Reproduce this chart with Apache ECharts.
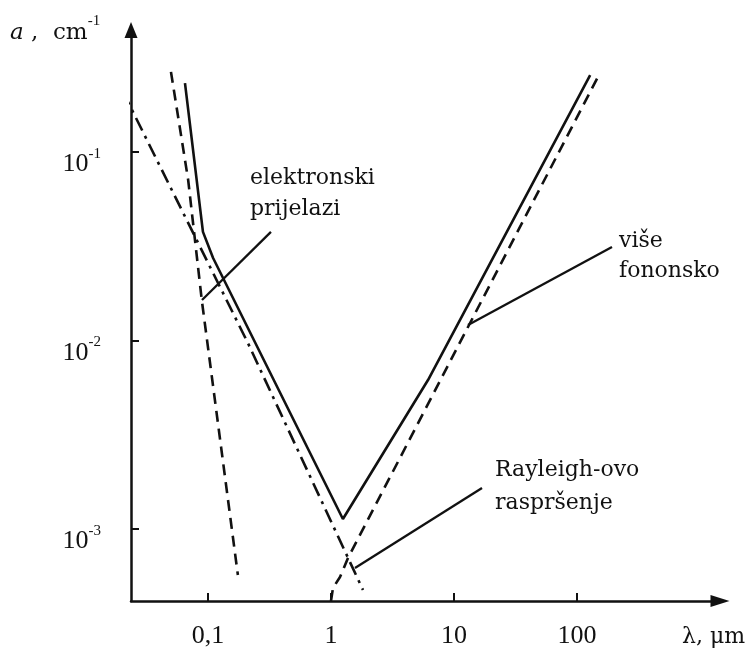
<!DOCTYPE html>
<html>
<head>
<meta charset="utf-8">
<script src="https://cdn.jsdelivr.net/npm/echarts@6/dist/echarts.min.js"></script>
<style>
    html, body { margin: 0; padding: 0; background: #fff; }
    #chart { width: 751px; height: 652px; }
</style>
</head>
<body>
<div id="chart"></div>
<script>
// valna duljina lambda (um) i koeficijent apsorpcije a (cm^-1), ocitano sa slike
var ukupnoX = [0.065, 0.091, 0.110, 1.25, 6.15, 128];
var ukupnoY = [0.232, 0.0377, 0.0274, 0.00113, 0.00617, 0.256];

var elektronskiX = [0.050, 0.069, 0.089, 0.175];
var elektronskiY = [0.266, 0.071, 0.0164, 0.00057];

var repX = [0.0204, 0.211, 1.82];
var repY = [0.208, 0.0097, 0.000475];

var rayleighX = [1.0, 1.038, 1.184, 1.375, 148];
var rayleighY = [0.000415, 0.000486, 0.000556, 0.000702, 0.250];

var xTicks = [0.1, 1, 10, 100];
var yTicks = [0.001, 0.01, 0.1];

// pokazne crte do natpisa
var crtaElektronskiX = [0.325, 0.0894];
var crtaElektronskiY = [0.0377, 0.0164];
var crtaFononiX = [192.6, 13.0];
var crtaFononiY = [0.0313, 0.01207];
var crtaRayleighX = [16.9, 1.567];
var crtaRayleighY = [0.00165, 0.000621];

function parovi(xs, ys) {
    return xs.map(function (x, i) { return [x, ys[i]]; });
}

var crna = '#111';

function linija(xs, ys, tip, sirina) {
    return {
        type: 'line',
        data: parovi(xs, ys),
        symbol: 'none',
        silent: true,
        clip: false,
        lineStyle: {color: crna, width: sirina, type: tip}
    };
}

var chart = echarts.init(document.getElementById('chart'));
var option = {
    animation: false,
    backgroundColor: '#fff',
    grid: {left: 131, right: 31, top: 30, bottom: 51},
    xAxis: {
        type: 'log',
        logBase: 10,
        min: 0.02366,
        max: 1455,
        axisLine: {
            lineStyle: {color: crna, width: 2.5},
            symbol: ['none', 'triangle'],
            symbolSize: [12, 19]
        },
        axisTick: {inside: true, length: 8, lineStyle: {color: crna, width: 2}, customValues: xTicks},
        axisLabel: {
            customValues: xTicks,
            margin: 22,
            color: crna,
            fontFamily: 'Liberation Serif',
            fontSize: 26,
            formatter: function (v) { return String(v).replace('.', ','); }
        },
        splitLine: {show: false},
        minorTick: {show: false}
    },
    yAxis: {
        type: 'log',
        logBase: 10,
        min: 0.000415,
        max: 0.4437,
        axisLine: {
            lineStyle: {color: crna, width: 2.5},
            symbol: ['none', 'triangle'],
            symbolSize: [13, 16]
        },
        axisTick: {inside: true, length: 8, lineStyle: {color: crna, width: 2}, customValues: yTicks},
        axisLabel: {
            customValues: yTicks,
            margin: 30,
            color: crna,
            padding: [20, 0, 0, 0],
            formatter: function (v) {
                return '{b|10}{s|' + Math.round(Math.log10(v)) + '}';
            },
            rich: {
                b: {fontFamily: 'Liberation Serif', fontSize: 26, color: crna, padding: [5, 0, 0, 0]},
                s: {fontFamily: 'Liberation Serif', fontSize: 15, color: crna, verticalAlign: 'top'}
            }
        },
        splitLine: {show: false},
        minorTick: {show: false}
    },
    series: [
        linija(ukupnoX, ukupnoY, 'solid', 2.6),
        linija(elektronskiX, elektronskiY, [11, 7], 2.6),
        linija(repX, repY, [14, 6, 3, 6], 2.6),
        linija(rayleighX, rayleighY, [11, 7], 2.6),
        linija(crtaElektronskiX, crtaElektronskiY, 'solid', 2.3),
        linija(crtaFononiX, crtaFononiY, 'solid', 2.3),
        linija(crtaRayleighX, crtaRayleighY, 'solid', 2.3)
    ],
    graphic: [
        {
            type: 'text', left: 10, top: 14,
            style: {
                text: '{i|a}{r| ,  cm}{s|-1}',
                rich: {
                    i: {font: 'italic 23px "DejaVu Serif"', fill: crna, padding: [8, 0, 0, 0]},
                    r: {font: '23px "DejaVu Serif"', fill: crna, padding: [8, 0, 0, 0]},
                    s: {font: '15px "Liberation Serif"', fill: crna, verticalAlign: 'top'}
                }
            }
        },
        {
            type: 'text', left: 682, top: 626,
            style: {text: 'λ, μm', font: '22px "DejaVu Serif"', fill: crna}
        },
        {
            type: 'text', left: 250, top: 163,
            style: {text: 'elektronski\nprijelazi', font: '22px "DejaVu Serif"', fill: crna, lineHeight: 31}
        },
        {
            type: 'text', left: 619, top: 226,
            style: {text: 'više\nfononsko', font: '22px "DejaVu Serif"', fill: crna, lineHeight: 30}
        },
        {
            type: 'text', left: 495, top: 454,
            style: {text: 'Rayleigh-ovo\nraspršenje', font: '22px "DejaVu Serif"', fill: crna, lineHeight: 33}
        }
    ]
};
chart.setOption(option);
</script>
</body>
</html>
